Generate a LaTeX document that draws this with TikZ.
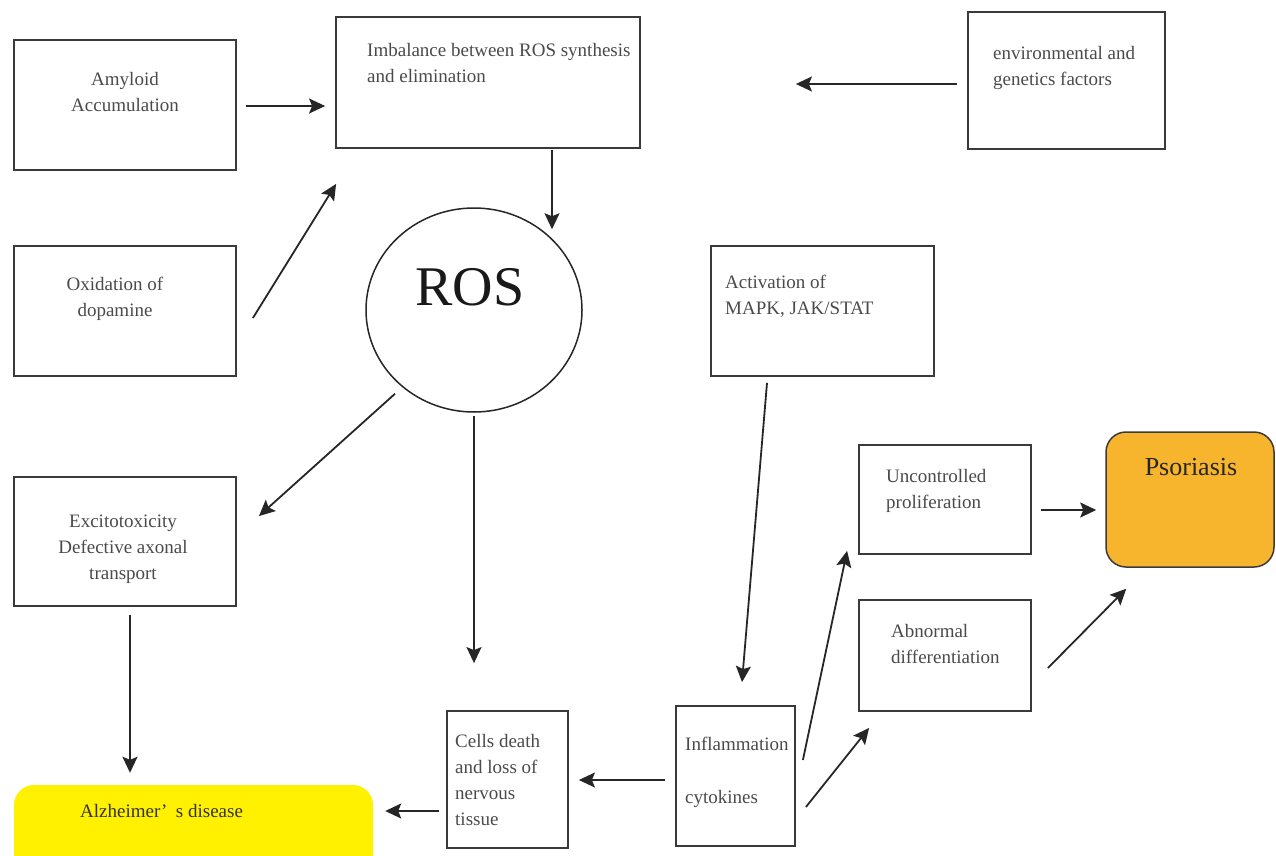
\documentclass[tikz,border=0pt]{standalone}
\usepackage{fontspec}
\setmainfont{Liberation Serif}
\usetikzlibrary{arrows.meta,shapes.geometric}
\definecolor{txtgray}{HTML}{4A4A4A}
\definecolor{linegray}{HTML}{3A3A3A}
\definecolor{alzyellow}{HTML}{FFF100}
\definecolor{psoorange}{HTML}{F7B52E}
\tikzset{
  box/.style={draw=linegray, line width=1.8pt, rectangle, inner sep=0pt},
  lbl/.style={text=txtgray, font=\fontsize{19}{26}\selectfont, inner sep=0pt, align=left},
  clbl/.style={text=txtgray, font=\fontsize{19}{26}\selectfont, inner sep=0pt, align=center},
  arr/.style={draw=black!85, line width=1.8pt, -{Stealth[length=16pt,width=15pt,inset=3pt]}}
}
\begin{document}
\begin{tikzpicture}[x=1pt,y=-1pt]
\useasboundingbox (0,0) rectangle (1276,856);

% boxes
\node[box, minimum width=222pt, minimum height=130pt] (amy) at (125,105) {};
\node[box, minimum width=304pt, minimum height=131pt] (imb) at (488,82.5) {};
\node[box, minimum width=197pt, minimum height=137pt] (env) at (1066.5,80.5) {};
\node[box, minimum width=222pt, minimum height=130pt] (oxi) at (125,311) {};
\node[draw=black!85, line width=1.5pt, ellipse, minimum width=216pt, minimum height=204pt, inner sep=0pt] (ros) at (474,310) {};
\node[box, minimum width=223pt, minimum height=130pt] (act) at (822.5,311) {};
\node[box, minimum width=222pt, minimum height=129pt] (exc) at (125,541.5) {};
\node[box, minimum width=172pt, minimum height=109pt] (unc) at (945,499.5) {};
\node[draw=linegray, line width=1.5pt, fill=psoorange, rounded corners=20pt, minimum width=168pt, minimum height=135pt, inner sep=0pt] (pso) at (1190,499.5) {};
\node[box, minimum width=172pt, minimum height=111pt] (abn) at (945,655.5) {};
\node[box, minimum width=121pt, minimum height=137pt] (cel) at (507.5,779.5) {};
\node[box, minimum width=119pt, minimum height=140pt] (inf) at (735.5,776) {};
\node[fill=alzyellow, rounded corners=20pt, minimum width=359pt, minimum height=100pt, inner sep=0pt] (alz) at (193.5,835) {};

% texts
\node[clbl] (amyT) at (125,92) {Amyloid\\Accumulation};
\node[lbl, anchor=west] (imbT) at (367,63) {Imbalance between ROS synthesis\\and elimination};
\node[lbl, anchor=west] (envT) at (993,67.5) {environmental and\\genetics factors};
\node[clbl] (oxiT) at (115,299) {Oxidation of\\dopamine};
\node[text=black!90, font=\fontsize{56}{60}\selectfont, inner sep=0pt] (rosT) at (470,287) {ROS};
\node[lbl, anchor=west] (actT) at (725,296) {Activation of\\MAPK, JAK/STAT};
\node[clbl] (excT) at (123,549) {Excitotoxicity\\Defective axonal\\transport};
\node[lbl, anchor=west] (uncT) at (886,490.5) {Uncontrolled\\proliferation};
\node[text=black!85, font=\fontsize{26}{30}\selectfont, inner sep=0pt] (psoT) at (1191,467) {Psoriasis};
\node[lbl, anchor=west] (abnT) at (891,644) {Abnormal\\differentiation};
\node[lbl, anchor=west] (celT) at (455,779.5) {Cells death\\and loss of\\nervous\\tissue};
\node[lbl, anchor=west] (infT) at (685,772.5) {Inflammation\\[27pt]cytokines};
\node[lbl, anchor=west, text=black!80] (alzT) at (80,811) {Alzheimer’\hspace{0.45em}s disease};

% connectors
\draw[arr] ([shift={(9,1)}]amy.east) -- ([shift={(-10,23.5)}]imb.west);
\draw[arr] ([shift={(-10,3.5)}]env.west) -- ([shift={(155,1.5)}]imb.east);
\draw[arr] ([shift={(64,1)}]imb.south) -- ([shift={(78,22)}]ros.north);
\draw[arr] ([shift={(16,7)}]oxi.east) -- ([shift={(1,35)}]imb.south west);
\draw[arr] ([shift={(-79,-19)}]ros.south) -- ([shift={(22,40)}]exc.north east);
\draw[arr] ([shift={(0,3)}]ros.south) -- ([shift={(-33.5,-47)}]cel.north);
\draw[arr] ([shift={(-55.5,6)}]act.south) -- ([shift={(6.5,-23)}]inf.north);
\draw[arr] ([shift={(5,8)}]exc.south) -- ([shift={(-63.5,-12)}]alz.north);
\draw[arr] ([shift={(-7,31.5)}]cel.west) -- ([shift={(12,-24)}]alz.east);
\draw[arr] ([shift={(-10,4)}]inf.west) -- ([shift={(10,0.5)}]cel.east);
\draw[arr] ([shift={(7,-16)}]inf.east) -- ([shift={(-11,-4)}]unc.south west);
\draw[arr] ([shift={(10,31)}]inf.east) -- ([shift={(11,16)}]abn.south west);
\draw[arr] ([shift={(9,10.5)}]unc.east) -- ([shift={(-9,10.5)}]pso.west);
\draw[arr] ([shift={(16,12.5)}]abn.east) -- ([shift={(21,21)}]pso.south west);
\end{tikzpicture}
\end{document}
